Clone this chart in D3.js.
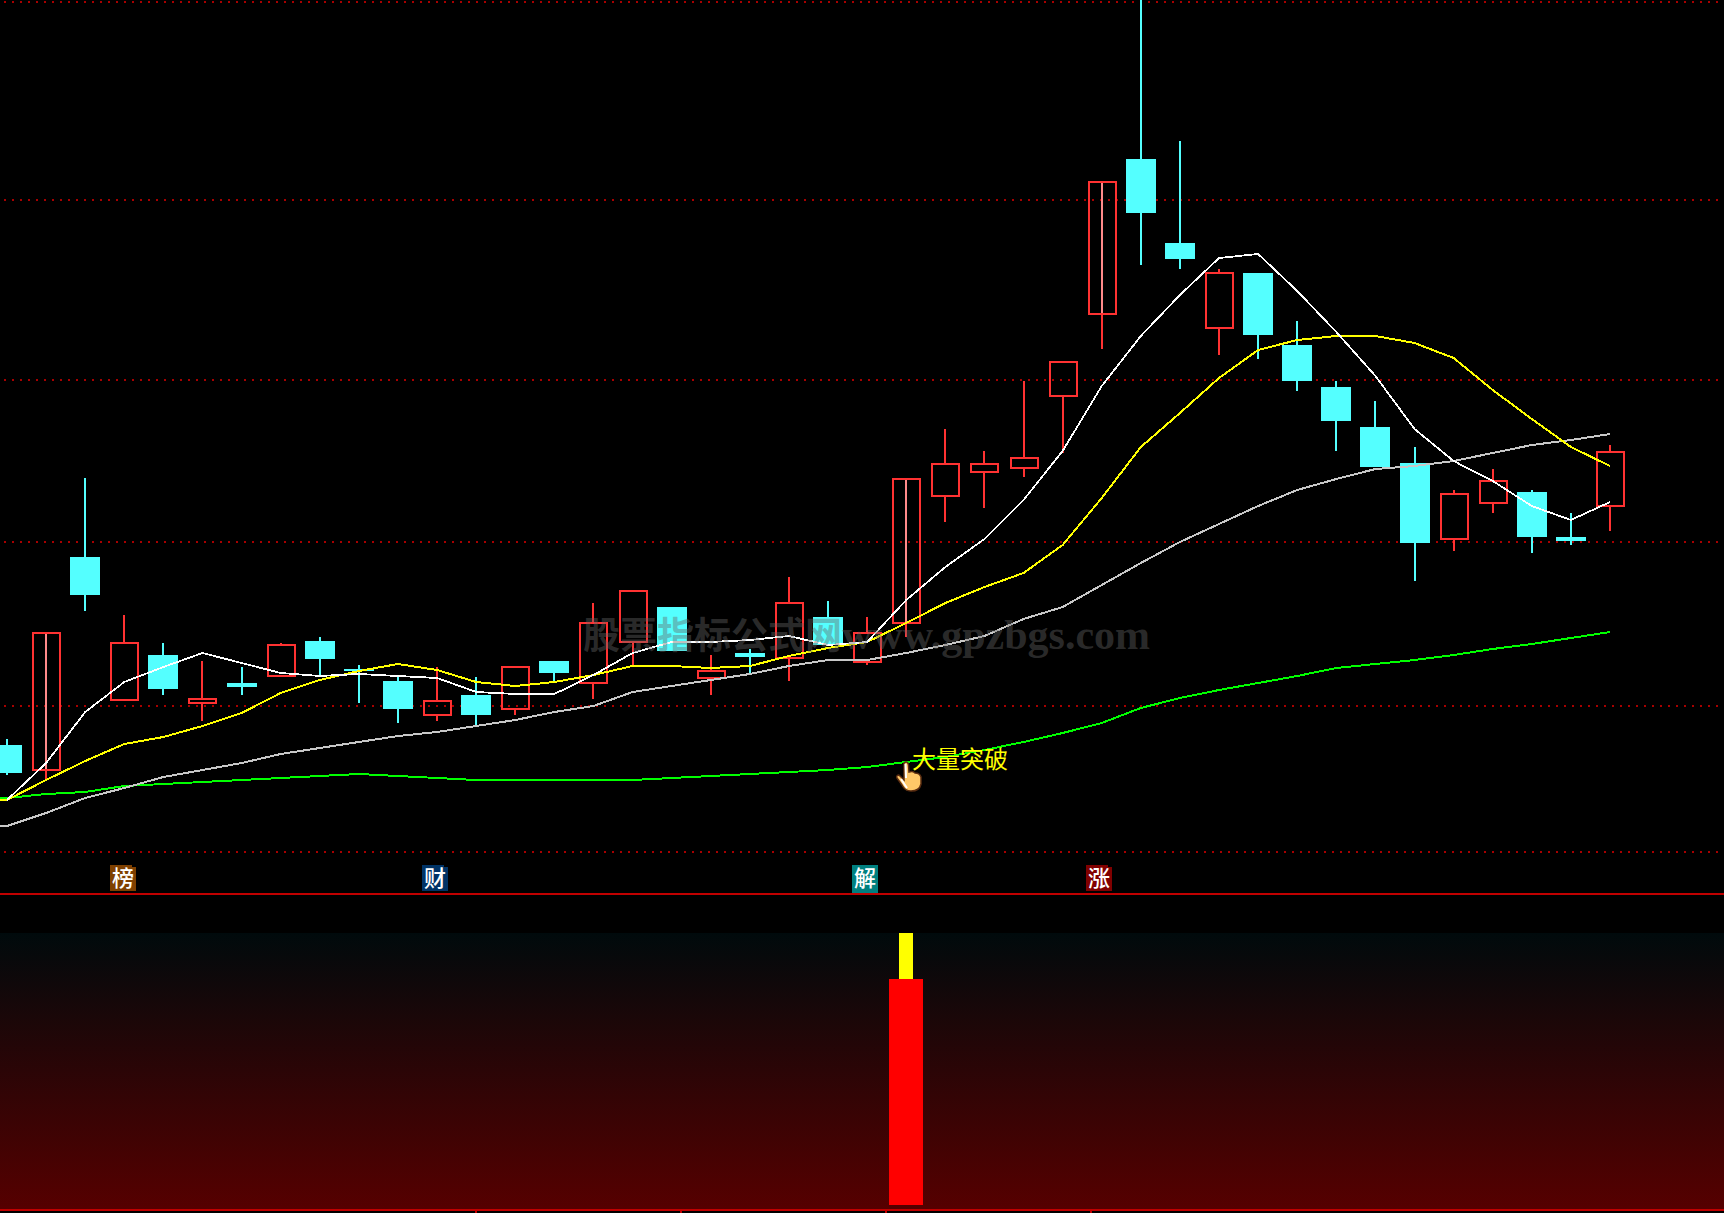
<!DOCTYPE html>
<html>
<head>
<meta charset="utf-8">
<style>html,body{margin:0;padding:0;background:#000;overflow:hidden}svg{display:block}</style>
<script src="https://cdn.jsdelivr.net/npm/d3@7/dist/d3.min.js"></script>
</head>
<body>
<div id="chart"></div>
<script>
const opens  = [1.49,1.24,3.37,1.94,2.39,1.91,2.11,2.18,2.53,2.25,2.13,1.79,1.99,1.85,2.33,2.11,2.52,2.87,2.16,2.41,2.36,2.77,2.32,2.71,3.98,4.22,4.26,4.98,5.80,7.35,6.51,5.66,6.21,5.49,5.07,4.67,4.31,3.55,3.91,4.02,3.57,3.88];
const closes = [1.21,2.61,2.99,2.51,2.05,1.95,2.07,2.49,2.35,2.23,1.85,1.93,1.79,2.27,2.21,2.71,3.03,2.43,2.23,2.37,2.91,2.49,2.61,4.15,4.30,4.30,4.36,5.32,7.12,6.81,6.35,6.21,5.59,5.13,4.73,4.27,3.51,4.00,4.13,3.57,3.53,4.42];
const highs  = [1.55,2.61,4.16,2.79,2.51,2.33,2.27,2.51,2.57,2.29,2.17,2.27,2.17,2.27,2.33,2.91,3.03,2.87,2.39,2.45,3.17,2.93,2.77,4.15,4.65,4.43,5.13,5.32,7.12,9.00,7.53,6.25,6.21,5.73,5.13,4.93,4.47,4.04,4.25,4.04,3.81,4.49];
const lows   = [1.19,1.13,2.83,1.94,1.99,1.73,1.99,2.18,2.19,1.91,1.71,1.73,1.69,1.79,2.11,1.95,2.28,2.43,1.99,2.21,2.13,2.49,2.29,2.57,3.72,3.86,4.17,4.41,5.45,6.29,6.25,5.39,5.35,5.03,4.43,4.27,3.13,3.43,3.81,3.41,3.49,3.63];
const limitUpDays = [1,23,28];

// moving averages; first entry is the (off-screen) day before the first candle
const ma5  = [null,0.94,1.31,1.82,2.12,2.27,2.41,2.31,2.21,2.18,2.20,2.18,2.16,2.02,2.00,2.00,2.19,2.41,2.52,2.52,2.54,2.58,2.49,2.52,2.94,3.27,3.55,3.94,4.43,5.08,5.58,5.99,6.36,6.40,6.03,5.62,5.18,4.65,4.33,4.13,3.88,3.74,3.92];
const ma10 = [0.94,0.94,1.14,1.33,1.50,1.57,1.68,1.81,2.01,2.14,2.23,2.30,2.24,2.12,2.08,2.12,2.19,2.28,2.28,2.26,2.28,2.38,2.46,2.52,2.71,2.91,3.07,3.21,3.49,3.96,4.47,4.81,5.16,5.44,5.54,5.58,5.58,5.51,5.36,5.04,4.75,4.47,4.28];
const ma20 = [0.67,0.68,0.81,0.96,1.06,1.17,1.24,1.31,1.40,1.46,1.52,1.58,1.62,1.68,1.74,1.82,1.88,2.02,2.08,2.14,2.20,2.28,2.34,2.34,2.41,2.49,2.58,2.75,2.87,3.09,3.31,3.52,3.70,3.88,4.04,4.15,4.25,4.28,4.33,4.41,4.49,4.54,4.60];
const ma60 = [0.96,0.96,1.00,1.02,1.08,1.10,1.12,1.14,1.16,1.18,1.20,1.18,1.16,1.14,1.14,1.14,1.14,1.14,1.16,1.18,1.20,1.22,1.24,1.27,1.32,1.37,1.44,1.52,1.61,1.71,1.86,1.96,2.04,2.11,2.18,2.26,2.30,2.34,2.39,2.45,2.50,2.56,2.62];

const gridLevels = [8.92,6.94,5.14,3.52,1.88,0.42];
const signalDays = [2.99,10.97,21.96,27.95];
const signalChars = ["榜","财","解","涨"];
const signalColors = ["#7f4000","#003366","#008080","#800000"];
const volumeDays = [23];
const volumeRed = [83];
const volumeYellow = [100];
const axisTickDays = [12,17.24,22.47,27.72];
const watermarkCn = "股票指标公式网";
const watermarkEn = "www.gpzbgs.com";
const breakoutLabel = "大量突破";

const W = 1724, H = 1213;
const svg = d3.select("#chart").append("svg").attr("width",W).attr("height",H).attr("viewBox",`0 0 ${W} ${H}`);
const defs = svg.append("defs");
const grad = defs.append("linearGradient").attr("id","volbg").attr("x1",0).attr("x2",0).attr("y1",0).attr("y2",1);
grad.append("stop").attr("offset",0).attr("stop-color","#000a0c");
grad.append("stop").attr("offset",1).attr("stop-color","#560000");

svg.append("rect").attr("width",W).attr("height",H).attr("fill","#000");

const x = d3.scaleLinear().domain([0,41]).range([7,1610]);
const y = d3.scaleLinear().domain([0,8.94]).range([894,0]);
const vy = d3.scaleLinear().domain([0,100]).range([1205,933]);
const days = d3.range(opens.length);

// grid
svg.append("g").selectAll("line").data(gridLevels).join("line")
  .attr("x1",4).attr("x2",W).attr("y1",d=>y(d)).attr("y2",d=>y(d))
  .attr("stroke","#a80000").attr("stroke-width",2).attr("stroke-dasharray","2 6")
  .attr("shape-rendering","crispEdges");

// candles
const RED="#ff3232", CYAN="#54ffff";
const cg = svg.append("g").attr("shape-rendering","crispEdges");
days.forEach(i=>{
  const up = closes[i]>=opens[i];
  const top = y(Math.max(opens[i],closes[i])), bot = y(Math.min(opens[i],closes[i]));
  const cx = Math.round(x(i));
  const col = up?RED:CYAN;
  const g = cg.append("g");
  g.append("line").attr("x1",cx).attr("x2",cx).attr("y1",y(highs[i])).attr("y2",top).attr("stroke",col).attr("stroke-width",2);
  g.append("line").attr("x1",cx).attr("x2",cx).attr("y1",bot).attr("y2",y(lows[i])).attr("stroke",col).attr("stroke-width",2);
  if(limitUpDays.includes(i)){
    g.append("line").attr("x1",cx).attr("x2",cx).attr("y1",top).attr("y2",bot).attr("stroke","#ff8a8a").attr("stroke-width",2);
  }
  if(up){
    g.append("rect").attr("x",cx-13).attr("y",Math.round(top)).attr("width",27).attr("height",Math.max(Math.round(bot)-Math.round(top),1))
      .attr("fill","none").attr("stroke",col).attr("stroke-width",2);
  } else {
    g.append("rect").attr("x",cx-15).attr("y",top).attr("width",30).attr("height",Math.max(bot-top,1)).attr("fill",col);
  }
});

// moving averages
const lineGen = d3.line().defined(d=>d!==null).x((d,i)=>x(i-1)).y(d=>y(d)).curve(d3.curveLinear);
[[ma60,"#00ff00",2],[ma20,"#c8c8c8",2],[ma10,"#ffff00",2],[ma5,"#ffffff",1.8]].forEach(([s,c,w])=>{
  svg.append("path").attr("d",lineGen(s)).attr("fill","none").attr("stroke",c).attr("stroke-width",w)
    .attr("shape-rendering","crispEdges");
});

// signal badges
const sg = svg.append("g").selectAll("g").data(signalDays).join("g");
sg.append("rect").attr("x",d=>Math.round(x(d))-14).attr("y",865).attr("width",26).attr("height",(d,i)=>i===2?28:26)
  .attr("fill",(d,i)=>signalColors[i]).attr("shape-rendering","crispEdges");
sg.filter((d,i)=>i!==2).append("rect").attr("x",d=>Math.round(x(d))+8).attr("y",865).attr("width",4).attr("height",2)
  .attr("fill","#000").attr("shape-rendering","crispEdges");
sg.append("text").attr("x",d=>Math.round(x(d))-1).attr("y",886).attr("text-anchor","middle")
  .attr("font-family","'Noto Sans CJK SC'").attr("font-size",22).attr("font-weight",500).attr("fill","#fff")
  .text((d,i)=>signalChars[i]);

// panel dividers
svg.append("line").attr("x1",0).attr("x2",W).attr("y1",894).attr("y2",894).attr("stroke","#c00000").attr("stroke-width",2).attr("shape-rendering","crispEdges");

// lower panel
svg.append("rect").attr("x",0).attr("y",vy(100)).attr("width",W).attr("height",1209-vy(100)).attr("fill","url(#volbg)");
svg.append("g").attr("shape-rendering","crispEdges").selectAll("rect").data(volumeDays).join("rect")
  .attr("x",d=>x(d)-7).attr("width",14).attr("y",(d,i)=>vy(volumeYellow[i])).attr("height",(d,i)=>vy(volumeRed[i])-vy(volumeYellow[i])).attr("fill","#ffff00");
svg.append("g").attr("shape-rendering","crispEdges").selectAll("rect").data(volumeDays).join("rect")
  .attr("x",d=>x(d)-17).attr("width",34).attr("y",(d,i)=>vy(volumeRed[i])).attr("height",(d,i)=>vy(0)-vy(volumeRed[i])).attr("fill","#ff0000");
svg.append("line").attr("x1",0).attr("x2",W).attr("y1",1210).attr("y2",1210).attr("stroke","#c00000").attr("stroke-width",2).attr("shape-rendering","crispEdges");
svg.append("g").selectAll("line").data(axisTickDays).join("line")
  .attr("x1",d=>x(d)).attr("x2",d=>x(d)).attr("y1",1210).attr("y2",1213).attr("stroke","#c00000").attr("stroke-width",2).attr("shape-rendering","crispEdges");

// breakout label & hand pointer
svg.append("text").attr("x",912).attr("y",768).attr("font-family","'Noto Sans CJK SC'").attr("font-size",24).attr("fill","#ffff00").text(breakoutLabel);
const hand = svg.append("g").attr("transform","translate(896,762)");
hand.append("path").attr("d","M8,1 C10,-1 12,0 12.5,3 L13,10 C16,9 18,10 19,11 C22,11 24,12 25,15 L25,22 C24,27 20,29 15,29 C10,29 8,27 6,23 L1,16 C0,14 2,12 4,14 L8,18 Z")
  .attr("fill","#ffc868").attr("stroke","#5a2c10").attr("stroke-width",1.5);
hand.append("path").attr("d","M9.5,2 L10,16 M5,17 L11,26").attr("stroke","#fff").attr("stroke-width",2).attr("fill","none");

// watermark
const wm = svg.append("text").attr("x",583).attr("y",649).attr("fill","#666").attr("fill-opacity",0.42);
wm.append("tspan").attr("font-family","'Noto Sans CJK SC'").attr("font-size",37).attr("font-weight",700).text(watermarkCn);
wm.append("tspan").attr("font-family","'Liberation Serif'").attr("font-size",42).attr("font-weight",700).text(watermarkEn);
</script>
</body>
</html>
